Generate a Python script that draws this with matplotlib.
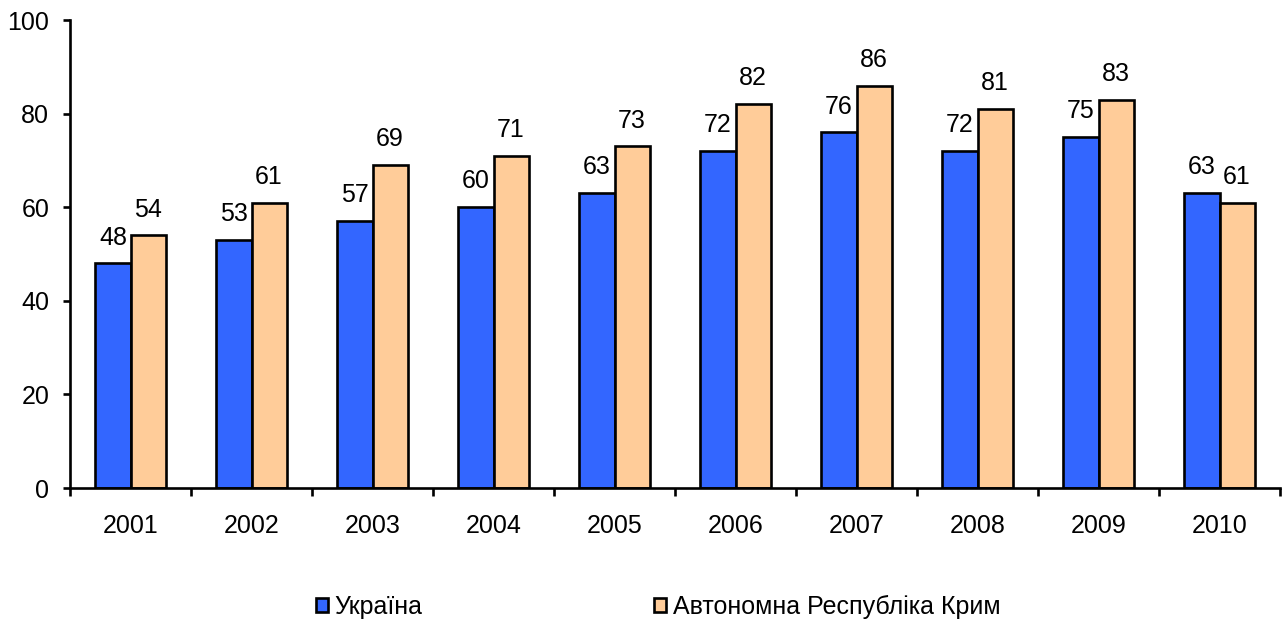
import numpy as np
import matplotlib.pyplot as plt
from matplotlib.ticker import FixedLocator

plt.rcParams["font.family"] = ["Liberation Sans", "DejaVu Sans"]

YEARS = ["2001", "2002", "2003", "2004", "2005", "2006", "2007", "2008", "2009", "2010"]
UKRAINE = [48, 53, 57, 60, 63, 72, 76, 72, 75, 63]
CRIMEA = [54, 61, 69, 71, 73, 82, 86, 81, 83, 61]
SERIES_NAMES = ["Україна", "Автономна Республіка Крим"]

BLUE = "#3366FF"
PEACH = "#FFCC99"
FS = 18
LW = 1.9

fig = plt.figure(figsize=(12.87, 6.22), dpi=100)
ax = fig.add_axes([70 / 1287, 1 - 488 / 622, 1210 / 1287, 468 / 622])

x = np.arange(len(YEARS))
w = 0.29
b1 = ax.bar(x - w / 2, UKRAINE, w, color=BLUE, edgecolor="black", linewidth=LW,
            label=SERIES_NAMES[0])
b2 = ax.bar(x + w / 2, CRIMEA, w, color=PEACH, edgecolor="black", linewidth=LW,
            label=SERIES_NAMES[1])

for bars, vals in [(b1, UKRAINE), (b2, CRIMEA)]:
    for rect, v in zip(bars, vals):
        ax.annotate(str(v), (rect.get_x() + rect.get_width() / 2, v),
                    xytext=(0, 13.5), textcoords="offset points",
                    ha="center", va="baseline", fontsize=FS)

ax.set_xlim(-0.5, len(YEARS) - 0.5)
ax.set_ylim(0, 100)
ax.set_yticks([0, 20, 40, 60, 80, 100])
ax.set_xticks(x)
ax.set_xticklabels(YEARS)
ax.xaxis.set_minor_locator(FixedLocator(np.arange(-0.5, len(YEARS), 1.0)))
ax.tick_params(axis="x", which="major", length=0, pad=18.5, labelsize=FS)
ax.tick_params(axis="x", which="minor", length=6, width=LW, direction="out")
ax.tick_params(axis="y", length=5, width=LW, direction="out", pad=10, labelsize=FS)

for side in ["top", "right"]:
    ax.spines[side].set_visible(False)
for side in ["left", "bottom"]:
    ax.spines[side].set_linewidth(LW)

fig.legend(handles=[b1, b2], loc="center", bbox_to_anchor=(658 / 1287, 15 / 622),
           ncol=2, frameon=False, fontsize=FS, handlelength=0.5, handleheight=0.5,
           handletextpad=0.25, columnspacing=9.25, borderaxespad=0)

fig.savefig("out.png", dpi=100)
